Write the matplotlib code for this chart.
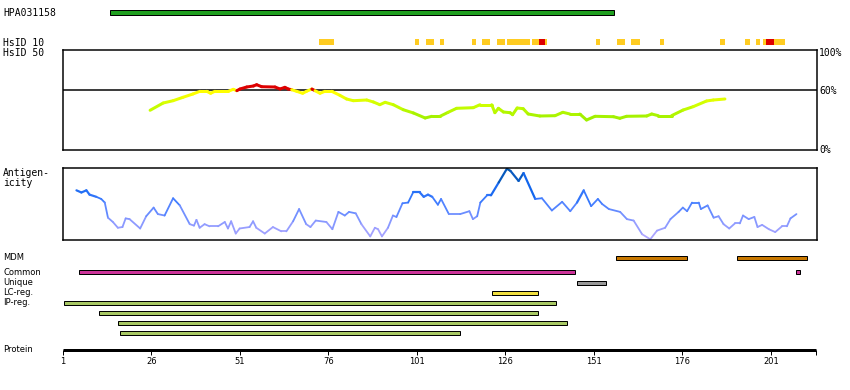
import numpy as np
import matplotlib
matplotlib.use('Agg')
import matplotlib.pyplot as plt
from matplotlib.collections import LineCollection
from matplotlib.colors import LinearSegmentedColormap, Normalize

# ---- data (residue positions) ----
antigen_name = 'HPA031158'
antigen_span = (14.3, 156.6)
protein_end = 213.6
tick_res = [1, 26, 51, 76, 101, 126, 151, 176, 201]

hsid10_yellow = [(73.3, 77.6), (100.4, 101.6), (103.5, 105.8), (107.5, 108.6),
                 (116.5, 117.7), (119.4, 121.6), (123.6, 125.9), (126.4, 132.9),
                 (133.5, 137.7), (151.6, 152.7), (157.5, 159.8), (161.5, 164.0),
                 (169.6, 170.8), (186.6, 188.0), (193.7, 195.1), (196.8, 197.9),
                 (198.7, 205.0)]
hsid10_red = [(135.5, 137.2), (199.6, 201.8)]

hsid50_res = [25.6, 29.3, 32.1, 34.9, 37.7, 39.7, 41.6, 42.7, 43.9, 47.7,
              49.1, 50.1, 51.0, 52.9, 54.8, 55.7, 57.1, 60.9, 62.3, 63.7,
              64.6, 65.6, 67.0, 68.7, 69.8, 71.3, 72.2, 73.6, 75.0, 76.9,
              79.2, 81.1, 83.0, 86.8, 88.7, 90.5, 92.0, 94.3, 97.1, 100.0,
              103.3, 105.2, 107.5, 109.8, 112.2, 116.9, 118.8, 122.1, 123.0, 124.0,
              125.4, 127.3, 128.0, 129.3, 131.0, 132.4, 135.7, 140.0, 142.2, 144.2,
              147.0, 148.9, 151.3, 156.5, 158.3, 160.2, 165.9, 167.3, 169.2, 172.9,
              176.2, 179.0, 182.8, 184.7, 188.0]
hsid50_val = [39.7, 47, 49.3, 52.7, 56, 58.7, 58.7, 56.7, 58.7, 58.7,
              60.7, 59.3, 61, 63, 64, 65.3, 63.3, 63, 61, 62.7,
              61, 60.3, 58.7, 56.7, 58.7, 61, 59.3, 56.7, 58.7, 58.7,
              54.7, 51, 49.3, 50, 48, 45.3, 47.7, 45.3, 40.3, 37,
              32, 33.7, 33.7, 37.7, 41.7, 42.3, 45.3, 45.3, 37.3, 41.7,
              38, 37.3, 35.3, 42, 41.3, 36, 34, 34.3, 37.7, 36,
              36, 30, 33.7, 33.3, 31.7, 33.7, 34, 36, 34.3, 34.3,
              40, 43.3, 49, 50, 51]

ag_res = [4.8, 6.2, 7.6, 8.5, 10.4, 11.8, 12.8, 13.7, 15.1, 16.5,
          17.8, 18.7, 19.8, 22.8, 24.5, 26.6, 27.8, 29.7, 32.1, 34.0,
          36.8, 38.0, 38.7, 39.6, 41.0, 42.4, 44.8, 46.7, 47.6, 48.5,
          49.8, 50.9, 53.7, 54.7, 55.6, 58.0, 60.3, 62.7, 64.1, 66.0,
          67.7, 69.7, 70.9, 72.4, 75.4, 77.1, 78.8, 80.6, 81.8, 83.7,
          85.3, 87.8, 89.1, 90.0, 91.1, 92.8, 94.2, 95.2, 96.9, 98.5,
          99.9, 101.8, 102.9, 104.1, 105.3, 106.9, 107.8, 110.0, 113.2, 115.8,
          116.8, 118.0, 118.9, 120.8, 121.9, 124.1, 126.4, 127.4, 129.7, 131.1,
          134.4, 136.3, 139.1, 142.0, 144.3, 146.2, 148.1, 150.2, 152.1, 153.3,
          155.2, 158.4, 160.3, 162.2, 164.6, 166.9, 168.8, 171.1, 172.6, 174.9,
          176.1, 177.3, 178.7, 180.6, 181.2, 183.1, 184.8, 186.2, 187.6, 189.2,
          190.8, 192.2, 193.1, 194.7, 196.3, 197.2, 198.5, 200.4, 202.2, 204.1,
          205.5, 206.5, 208.2]
ag_val = [0.69, 0.66, 0.69, 0.63, 0.60, 0.57, 0.52, 0.31, 0.25, 0.17,
          0.18, 0.30, 0.29, 0.16, 0.33, 0.45, 0.36, 0.34, 0.58, 0.48,
          0.22, 0.20, 0.28, 0.17, 0.22, 0.19, 0.19, 0.25, 0.16, 0.26,
          0.09, 0.16, 0.18, 0.26, 0.17, 0.09, 0.18, 0.12, 0.12, 0.26,
          0.43, 0.22, 0.18, 0.27, 0.25, 0.15, 0.39, 0.34, 0.39, 0.37,
          0.22, 0.05, 0.17, 0.15, 0.05, 0.17, 0.34, 0.32, 0.51, 0.52,
          0.66, 0.66, 0.60, 0.63, 0.60, 0.49, 0.57, 0.36, 0.36, 0.40,
          0.29, 0.33, 0.52, 0.62, 0.62, 0.80, 0.99, 0.96, 0.82, 0.93,
          0.57, 0.58, 0.41, 0.53, 0.40, 0.52, 0.69, 0.47, 0.57, 0.50,
          0.43, 0.39, 0.29, 0.27, 0.08, 0.01, 0.13, 0.17, 0.29, 0.39,
          0.45, 0.40, 0.52, 0.52, 0.43, 0.48, 0.31, 0.33, 0.22, 0.16,
          0.23, 0.23, 0.34, 0.29, 0.32, 0.18, 0.21, 0.15, 0.11, 0.19,
          0.19, 0.30, 0.36]

mdm = [(157.2, 177.3), (191.3, 211.3)]
common = [(5.4, 145.5), (208.1, 209.3)]
unique = [(146.2, 154.4)]
lc_reg = [(122.2, 135.2)]
ip_reg = [(1.4, 140.3), (11.3, 135.2), (16.4, 143.5), (17.1, 113.1)]

# ---- layout (pixels) ----
W, H = 850, 390
X0, X1 = 63, 817
XLIM = (1, 214)


def rect(x0, y0, x1, y1):
    return [x0 / W, 1 - y1 / H, (x1 - x0) / W, (y1 - y0) / H]


def ftext(x, y, s, **kw):
    fig.text(x / W, 1 - y / H, s, va='center', **kw)


PX = 0.72  # one pixel in points
mono = dict(family='DejaVu Sans Mono', fontsize=7)
small = dict(family='DejaVu Sans', fontsize=6)

fig = plt.figure(figsize=(W / 100, H / 100), dpi=100)
fig.patch.set_facecolor('white')

# track axes: x in residues, y in pixel rows
tr = fig.add_axes(rect(X0, 0, X1, H))
tr.set_xlim(*XLIM)
tr.set_ylim(H, 0)
tr.axis('off')
tr.patch.set_visible(False)


def bars(spans, yc, color, h=4, edge=True):
    for s, e in spans:
        tr.barh(yc, e - s, left=s, height=h, color=color,
                edgecolor='black' if edge else 'none',
                linewidth=PX if edge else 0, clip_on=False, zorder=3)


bars([antigen_span], 12.3, '#1f9f1f', h=4.5)
bars(hsid10_yellow, 42.3, '#ffcc22', h=6, edge=False)
bars(hsid10_red, 42.3, '#dd0000', h=6, edge=False)
bars(mdm, 257.8, '#c87800')
bars(common, 272.3, '#cc3399')
bars(unique, 282.5, '#999999')
bars(lc_reg, 292.5, '#f2e040')
for i, sp in enumerate(ip_reg):
    bars([sp], 302.5 + 10 * i, '#a8c864')

# protein axis
tr.plot([1, protein_end], [350, 350], color='black', lw=3 * PX,
        solid_capstyle='butt', clip_on=False)
tr.vlines(tick_res + [protein_end], 350, 355, color='black', lw=PX, clip_on=False)
for t in tick_res:
    tr.text(t, 362, str(t), ha='center', va='center', **small)

# HsID 50 panel
ax1 = fig.add_axes(rect(X0, 50, X1, 150))
ax1.set_xlim(*XLIM)
ax1.set_ylim(0, 100)
ax1.set_xticks([])
ax1.set_yticks([])
for sp in ax1.spines.values():
    sp.set_linewidth(1.5 * PX)
ax1.axhline(60, color='black', lw=1.5 * PX, zorder=1)
cm1 = LinearSegmentedColormap.from_list(
    'hs', [(0, '#99ee00'), (0.5, '#ccff00'), (0.9, '#ffff00'), (1, '#ffff00')])
x = np.array(hsid50_res)
y = np.array(hsid50_val)
segs = np.stack([np.column_stack([x[:-1], y[:-1]]), np.column_stack([x[1:], y[1:]])], axis=1)
mid = (y[:-1] + y[1:]) / 2
cols = [('#dd0000' if m > 60 else cm1(Normalize(30, 60)(m))) for m in mid]
ax1.add_collection(LineCollection(segs, colors=cols, linewidths=3 * PX, zorder=2,
                                  capstyle='round'))

# Antigenicity panel
ax2 = fig.add_axes(rect(X0, 168, X1, 240))
ax2.set_xlim(*XLIM)
ax2.set_ylim(0, 1)
ax2.set_xticks([])
ax2.set_yticks([])
for sp in ax2.spines.values():
    sp.set_linewidth(1.5 * PX)
cm2 = LinearSegmentedColormap.from_list(
    'ag', [(0, '#b8aaff'), (0.3, '#7f95ff'), (0.55, '#3d7bff'),
           (0.75, '#1266ee'), (1, '#00509c')])
x = np.array(ag_res)
y = np.array(ag_val)
segs = np.stack([np.column_stack([x[:-1], y[:-1]]), np.column_stack([x[1:], y[1:]])], axis=1)
mid = (y[:-1] + y[1:]) / 2
ax2.add_collection(LineCollection(segs, colors=cm2(mid),
                                  linewidths=[2.2 * PX if m > 0.6 else 1.8 * PX for m in mid],
                                  capstyle='round', zorder=2))

# labels
ftext(3, 12.7, antigen_name, **mono)
ftext(3, 42.5, 'HsID 10', **mono)
ftext(3, 52.5, 'HsID 50', **mono)
ftext(819, 52.5, '100%', **mono)
ftext(819, 91.3, '60%', **mono)
ftext(819, 150, '0%', **mono)
ftext(3, 172.5, 'Antigen-', **mono)
ftext(3, 182.5, 'icity', **mono)
ftext(3, 257, 'MDM', **small)
ftext(3, 272.5, 'Common', **small)
ftext(3, 282.3, 'Unique', **small)
ftext(3, 292.3, 'LC-reg.', **small)
ftext(3, 302.3, 'IP-reg.', **small)
ftext(3, 349.5, 'Protein', **small)

fig.savefig('out.png', dpi=100, facecolor='white')
